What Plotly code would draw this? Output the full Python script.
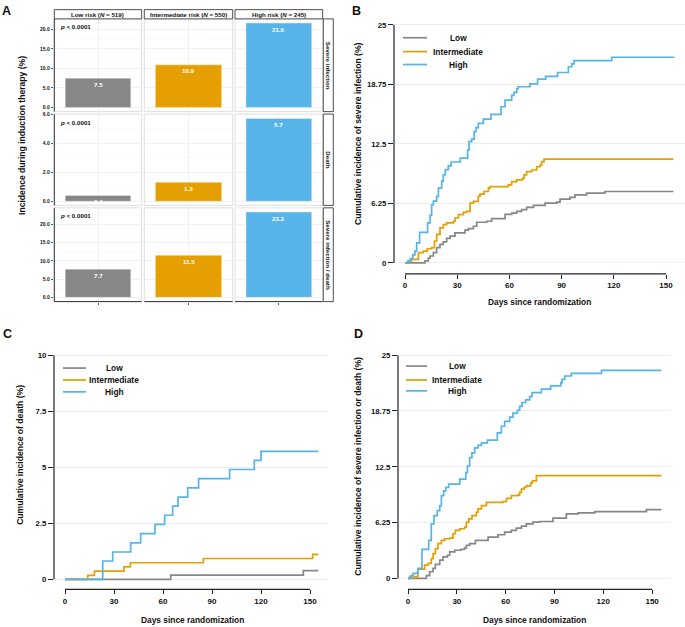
import plotly.graph_objects as go

W, H = 685, 627
FONT = "Liberation Sans, Arial, sans-serif"
GRAY, ORANGE, BLUE = "#878787", "#E69F00", "#56B4E9"
colors = [GRAY, ORANGE, BLUE]

# ---------------- data ----------------
groups = ["Low", "Intermediate", "High"]
group_strip_labels = ["Low risk (<i>N</i> = 519)", "Intermediate risk (<i>N</i> = 550)",
                      "High risk (<i>N</i> = 245)"]
outcome_labels = ["Severe infection", "Death", "Severe infection / death"]
incidence_severe_infection = [7.5, 10.9, 21.6]
incidence_death = [0.4, 1.3, 5.7]
incidence_infection_or_death = [7.7, 11.5, 23.3]
p_value_text = "<i>p</i> < 0.0001"

# B: cumulative incidence of severe infection (%)
b_low_days = [0, 10.5, 11.5, 13.4, 14.4, 16.3, 18.2, 20.1, 22.0, 23.9, 25.9, 28.7, 34.5, 36.4, 39.3,
              41.2, 46.9, 49.8, 57.5, 61.3, 64.2, 67.0, 69.9, 73.8, 80.5, 87.2, 89.1, 94.8, 97.7,
              104.4, 114.9, 154.2]
b_low_cuminc = [0, 0, 0.21, 0.49, 0.73, 1.08, 1.6, 1.94, 2.22, 2.57, 2.81, 3.16, 3.44, 3.61, 3.85,
                4.27, 4.38, 4.65, 5.1, 5.24, 5.42, 5.59, 5.83, 6.04, 6.28, 6.39, 6.7, 6.88, 7.15,
                7.33, 7.5, 7.5]
b_int_days = [0, 0.4, 1.9, 3.8, 7.7, 10.5, 12.8, 15.3, 16.9, 18.2, 20.1, 22.0, 23.9, 27.8, 28.7,
              30.7, 33.5, 35.4, 37.4, 39.3, 42.1, 43.1, 45.4, 47.9, 48.9, 59.4, 61.3, 64.2, 67.6,
              68.4, 69.9, 72.8, 75.7, 77.6, 78.5, 79.9, 154.2]
b_int_cuminc = [0, 0, 0.21, 0.38, 1.08, 1.25, 1.49, 1.6, 2.29, 2.99, 3.68, 4.03, 4.2, 4.38, 4.72,
                5.07, 5.31, 5.42, 6.28, 6.46, 6.98, 7.22, 7.5, 7.85, 8.02, 8.19, 8.54, 8.72, 8.89,
                9.24, 9.58, 9.76, 10.1, 10.28, 10.63, 10.9, 10.9]
b_high_days = [0, 1.5, 3.0, 4.5, 5.7, 6.7, 8.4, 13.0, 14.4, 15.3, 16.3, 18.2, 19.2, 21.1, 22.0, 23.2,
               24.9, 26.5, 31.8, 36.0, 36.8, 38.3, 39.7, 40.8, 42.1, 45.0, 49.4, 55.2, 57.5, 61.3,
               62.6, 64.2, 65.1, 71.8, 76.2, 80.8, 87.7, 93.9, 95.8, 97.1, 118.8, 154.8]
b_high_cuminc = [0, 0.2, 0.45, 0.85, 1.25, 2.1, 3.2, 4.2, 5.0, 6.1, 6.5, 7.0, 7.85, 8.6, 9.25, 9.8,
                 10.2, 10.6, 11.0, 11.88, 12.74, 13.0, 13.78, 14.2, 14.65, 15.1, 15.6, 16.4, 17.1,
                 17.6, 17.9, 18.3, 18.5, 18.8, 19.3, 19.6, 20.0, 20.6, 20.9, 21.25, 21.6, 21.6]

# C: cumulative incidence of death (%)
c_low_days = [0, 64.7, 145.9, 155.1]
c_low_cuminc = [0, 0.19, 0.39, 0.39]
c_int_days = [0, 13.9, 18.0, 36.1, 40.0, 84.7, 151.6, 155.1]
c_int_cuminc = [0, 0.18, 0.37, 0.56, 0.74, 0.93, 1.11, 1.11]
c_high_days = [0, 23.1, 29.2, 40.2, 46.3, 55.1, 61.0, 65.9, 69.2, 75.1, 81.8, 100.8, 115.9, 120.0,
               155.1]
c_high_cuminc = [0, 0.82, 1.22, 1.63, 2.04, 2.45, 2.86, 3.27, 3.67, 4.08, 4.49, 4.9, 5.31, 5.71,
                 5.71]

# D: cumulative incidence of severe infection or death (%)
d_low_days = [0, 10.7, 11.3, 13.3, 15.4, 16.8, 19.5, 21.5, 24.2, 25.6, 28.7, 32.4, 34.8, 35.9, 37.9,
              41.4, 49.2, 55.3, 59.4, 63.5, 66.6, 69.7, 72.7, 76.8, 80.9, 89.1, 97.3, 104.5, 114.8,
              146.5, 155.7]
d_low_cuminc = [0, 0, 0.3, 0.74, 1.11, 1.56, 2.04, 2.41, 2.59, 2.96, 3.15, 3.26, 3.41, 3.7, 3.89,
                4.26, 4.63, 4.89, 5.19, 5.37, 5.63, 5.85, 6.11, 6.3, 6.37, 6.74, 7.22, 7.33, 7.48,
                7.7, 7.7]
d_int_days = [0, 1.0, 6.1, 10.2, 12.3, 14.3, 15.4, 16.8, 18.4, 20.5, 22.5, 25.6, 27.7, 29.1, 31.8,
              34.8, 35.9, 37.3, 39.3, 42.0, 43.0, 45.1, 48.2, 58.4, 60.5, 63.5, 67.6, 68.6, 69.7,
              71.3, 72.7, 75.4, 76.4, 78.9, 155.7]
d_int_cuminc = [0, 0.19, 1.04, 1.48, 1.67, 2.22, 2.78, 3.33, 3.89, 4.26, 4.44, 4.52, 5.0, 5.37, 5.56,
                5.74, 6.3, 6.67, 7.04, 7.41, 7.78, 8.15, 8.52, 8.59, 8.96, 9.26, 9.33, 9.63, 10.0,
                10.19, 10.37, 10.67, 10.93, 11.5, 11.5]
d_high_days = [0, 1.6, 3.1, 6.1, 8.6, 12.7, 14.3, 16.0, 18.0, 19.5, 20.5, 21.9, 23.2, 25.0, 31.8,
               35.5, 36.5, 37.9, 39.3, 41.0, 43.0, 45.1, 48.8, 54.9, 57.4, 59.4, 62.5, 64.5, 67.2,
               68.6, 70.1, 72.3, 74.8, 76.2, 82.0, 87.7, 93.9, 94.7, 96.3, 100.4, 118.9, 155.7]
d_high_cuminc = [0, 0.3, 0.56, 1.11, 3.26, 4.26, 6.11, 7.04, 7.59, 8.15, 9.26, 9.81, 10.19, 10.56,
                 11.11, 11.85, 12.59, 13.52, 14.07, 14.63, 14.89, 15.19, 15.48, 16.3, 17.04, 17.59,
                 18.07, 18.52, 18.81, 19.26, 19.7, 20.0, 20.37, 20.81, 21.19, 21.56, 21.93, 22.3,
                 22.67, 22.96, 23.3, 23.3]

day_ticks = [0, 30, 60, 90, 120, 150]

# ---------------- helpers ----------------
def fx(px):
    return px / W

def fy(py):
    return 1 - py / H

fig = go.Figure()
layout = {}
shapes = []
annotations = []

def bold(size, color="#111111"):
    return dict(family=FONT, size=size, color=color, weight="bold")

def pann(px, py, text, size, xanchor="center", yanchor="middle", **kw):
    annotations.append(dict(xref="paper", yref="paper", x=fx(px), y=fy(py), text=text,
                            xanchor=xanchor, yanchor=yanchor, showarrow=False,
                            font=kw.pop("font", bold(size)), **kw))

# ---------------- panel A ----------------
col_px = [(54.3, 141.7), (144.3, 232.7), (235.0, 322.7)]
row_py = [(16.0, 109.5), (112.0, 204.0), (206.5, 301.0)]
row_values = [incidence_severe_infection, incidence_death, incidence_infection_or_death]
row_ranges = [(-1.08, 22.68), (-0.285, 6.0), (-1.165, 24.465)]
row_ticks = [[0, 5, 10, 15, 20], [0, 2, 4, 6], [0, 5, 10, 15, 20]]
row_minor = [[2.5, 7.5, 12.5, 17.5, 22.5], [1, 3, 5], [2.5, 7.5, 12.5, 17.5, 22.5]]

for r in range(3):
    for c in range(3):
        i = r * 3 + c + 1
        xn = "x" if i == 1 else f"x{i}"
        yn = "y" if i == 1 else f"y{i}"
        xk = "xaxis" if i == 1 else f"xaxis{i}"
        yk = "yaxis" if i == 1 else f"yaxis{i}"
        fig.add_trace(go.Bar(x=[groups[c]], y=[row_values[r][c]], width=0.9,
                             marker=dict(color=colors[c], line=dict(color="rgba(255,255,255,0.6)", width=0.6)),
                             xaxis=xn, yaxis=yn, showlegend=False, hoverinfo="skip"))
        layout[xk] = dict(domain=[fx(col_px[c][0]), fx(col_px[c][1])], anchor=yn,
                          range=[-0.6, 0.6], showticklabels=False, showgrid=True,
                          gridcolor="#EDEDED", gridwidth=0.8, zeroline=False, showline=False,
                          ticks="outside" if r == 2 else "", ticklen=2.5, tickcolor="#333333",
                          tickwidth=0.8, fixedrange=True)
        layout[yk] = dict(domain=[fy(row_py[r][1]), fy(row_py[r][0])], anchor=xn,
                          range=list(row_ranges[r]), tickvals=row_ticks[r],
                          ticktext=[f"{v:.1f}" for v in row_ticks[r]],
                          showticklabels=(c == 0), ticks="outside" if c == 0 else "",
                          ticklen=2.5, tickcolor="#333333", tickwidth=0.8,
                          tickfont=bold(5), showgrid=True, gridcolor="#EDEDED", gridwidth=0.8,
                          minor=dict(tickvals=row_minor[r], showgrid=True, gridcolor="#F6F6F6",
                                     gridwidth=0.6, ticks=""),
                          zeroline=False, showline=False, fixedrange=True)
        shapes.append(dict(type="rect", xref=f"{xn} domain", yref=f"{yn} domain",
                           x0=0, x1=1, y0=0, y1=1, line=dict(color="#D6D6D6", width=0.8),
                           layer="above"))
        if c == 0:
            shapes.append(dict(type="line", xref=f"{xn} domain", yref=f"{yn} domain",
                               x0=0, x1=0, y0=0, y1=1, line=dict(color="#333333", width=1)))
        if r == 2:
            shapes.append(dict(type="line", xref=f"{xn} domain", yref=f"{yn} domain",
                               x0=0, x1=1, y0=0, y1=0, line=dict(color="#333333", width=1)))
        annotations.append(dict(xref=xn, yref=yn, x=groups[c], y=row_values[r][c],
                                text=f"{row_values[r][c]:.1f}", showarrow=False,
                                xanchor="center", yanchor="top",
                                yshift=-0.5, font=bold(6.2, "white")))
    # p value
    pann(57.5, row_py[r][0] + 8, p_value_text, 6.2, xanchor="left")
    # row strip
    shapes.append(dict(type="rect", xref="paper", yref="paper", x0=fx(323.3), x1=fx(333.3),
                       y0=fy(row_py[r][1]), y1=fy(row_py[r][0]),
                       line=dict(color="#222222", width=0.8), fillcolor="white"))
    pann(328.5, (row_py[r][0] + row_py[r][1]) / 2, outcome_labels[r], 6.2, textangle=90)

for c in range(3):
    shapes.append(dict(type="rect", xref="paper", yref="paper", x0=fx(col_px[c][0]),
                       x1=fx(col_px[c][1]), y0=fy(16), y1=fy(6.7),
                       line=dict(color="#222222", width=0.8), fillcolor="white"))
    pann((col_px[c][0] + col_px[c][1]) / 2, 11.5, group_strip_labels[c], 6.2)

pann(22, 134, "Incidence during induction therapy (%)", 8.6, textangle=-90)

# ---------------- KM panels ----------------
def km_panel(n, dom_px, dom_py, xrange, yrange, axis_py, yticks, yticktext, ymax,
             curves, title_y, title_y_px, title_x_px, xtitle_px, legend):
    xn, yn = f"x{n}", f"y{n}"
    for (days, vals), col in zip(curves, colors):
        fig.add_trace(go.Scatter(x=days, y=vals, mode="lines", line=dict(color=col, width=1.7, shape="hv"),
                                 xaxis=xn, yaxis=yn, showlegend=False, hoverinfo="skip"))
    layout[f"xaxis{n}"] = dict(domain=[fx(dom_px[0]), fx(dom_px[1])], anchor="free",
                               position=fy(axis_py), range=list(xrange), tickvals=day_ticks,
                               ticks="outside", ticklen=4, tickcolor="#222222", tickwidth=1,
                               tickfont=bold(8), showgrid=False, zeroline=False, showline=False,
                               fixedrange=True)
    layout[f"yaxis{n}"] = dict(domain=[fy(dom_py[1]), fy(dom_py[0])], anchor=xn,
                               range=list(yrange), tickvals=yticks, ticktext=yticktext,
                               ticks="outside", ticklen=5, tickcolor="#222222", tickwidth=1,
                               tickfont=bold(7.8), showgrid=True, gridcolor="#EEEEEE",
                               gridwidth=1, zeroline=False, showline=False, fixedrange=True)
    shapes.append(dict(type="line", xref=f"{xn} domain", yref=yn, x0=0, x1=0, y0=0, y1=ymax,
                       line=dict(color="#222222", width=1.2)))
    shapes.append(dict(type="line", xref=xn, yref="paper", x0=0, x1=150, y0=fy(axis_py),
                       y1=fy(axis_py), line=dict(color="#222222", width=1.2)))
    pann(title_x_px, title_y_px, title_y, 8.6, textangle=-90)
    pann(xtitle_px[0], xtitle_px[1], "Days since randomization", 8.4)
    lx0, lx1, tx, lys = legend
    for g, col, ly in zip(groups, colors, lys):
        shapes.append(dict(type="line", xref="paper", yref="paper", x0=fx(lx0), x1=fx(lx1),
                           y0=fy(ly), y1=fy(ly), line=dict(color=col, width=1.7)))
        pann(tx, ly, g, 8.4)

tick25 = [0, 6.25, 12.5, 18.75, 25]
tick25_text = ["0", "6.25", "12.5", "18.75", "25"]

km_panel(10, (394, 685), (18, 265), (-6.32, 160.9), (-0.31, 25.42), 273, tick25, tick25_text, 25,
         [(b_low_days, b_low_cuminc), (b_int_days, b_int_cuminc), (b_high_days, b_high_cuminc)],
         "Cumulative incidence of severe infection (%)", 132, 358, (539, 301),
         (403, 427, 458, [35, 49, 62]))
km_panel(11, (54, 328), (350, 584), (-6.74, 161.0), (-0.133, 10.22), 591,
         [0, 2.5, 5, 7.5, 10], ["0", "2.5", "5", "7.5", "10"], 10,
         [(c_low_days, c_low_cuminc), (c_int_days, c_int_cuminc), (c_high_days, c_high_cuminc)],
         "Cumulative incidence of death (%)", 456, 20.5, (192, 622),
         (63, 86, 114, [368, 380, 392]))
km_panel(12, (398, 670), (350, 583), (-6.15, 161.0), (-0.333, 25.56), 591, tick25, tick25_text, 25,
         [(d_low_days, d_low_cuminc), (d_int_days, d_int_cuminc), (d_high_days, d_high_cuminc)],
         "Cumulative incidence of severe infection or death (%)", 467, 358.5, (534, 622),
         (406, 427, 457, [366, 380, 391]))

# panel letters
for letter, (lx, ly) in zip("ABCD", [(6, 8), (356, 8), (7, 333.5), (358, 333.5)]):
    pann(lx, ly, letter, 12.5)

fig.update_layout(width=W, height=H, margin=dict(l=0, r=0, t=0, b=0),
                  paper_bgcolor="white", plot_bgcolor="white", showlegend=False,
                  font=dict(family=FONT), shapes=shapes, annotations=annotations, **layout)
fig.write_html("out.html", config={"displayModeBar": False, "staticPlot": True},
               post_script="document.body.style.margin='0px';document.body.style.overflow='hidden';")
